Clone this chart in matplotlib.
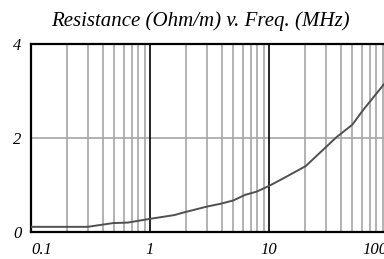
import matplotlib
matplotlib.use("Agg")
import matplotlib.pyplot as plt
from matplotlib.ticker import FixedLocator, NullFormatter

title = "Resistance (Ohm/m) v. Freq. (MHz)"
freq_mhz = [0.1, 0.3, 0.49, 0.65, 1.0, 1.6, 1.95, 3.0, 3.9, 5.0, 6.3, 7.9, 10, 12.3, 20.3, 37, 50, 62, 100]
resistance = [0.11, 0.11, 0.19, 0.20, 0.28, 0.36, 0.42, 0.54, 0.60, 0.67, 0.79, 0.86, 0.98, 1.10, 1.40, 2.02, 2.28, 2.60, 3.25]
x_ticks = [0.1, 1, 10, 100]
x_labels = ["0.1", "1", "10", "100"]
y_ticks = [0, 2, 4]
y_labels = ["0", "2", "4"]

W, H = 384, 259
fig = plt.figure(figsize=(W / 100, H / 100), dpi=100)
ax = fig.add_axes([31 / W, (H - 232) / H, (388 - 31) / W, (232 - 44) / H])

ax.set_xscale("log")
ax.set_xlim(0.1, 100)
ax.set_ylim(0, 4)

minor = [m * d for d in (0.1, 1, 10) for m in range(2, 10)]
ax.xaxis.set_major_locator(FixedLocator(x_ticks))
ax.xaxis.set_minor_locator(FixedLocator(minor))
ax.xaxis.set_minor_formatter(NullFormatter())
ax.set_yticks(y_ticks)

for m in minor:
    ax.axvline(m, color="#a6a6a6", lw=1.2, zorder=1)
for t in x_ticks[1:3]:
    ax.axvline(t, color="black", lw=1.2, zorder=2)
ax.axhline(2, color="#a6a6a6", lw=1.2, zorder=1)

ax.plot(freq_mhz, resistance, color="#505050", lw=1.4, zorder=3)

font = dict(family="Liberation Serif", style="italic", size=12)
ax.set_xticklabels(x_labels, **font)
ax.set_yticklabels(y_labels, **font)
labs = ax.get_xticklabels()
labs[0].set_horizontalalignment("left")
labs[-1].set_horizontalalignment("right")
ax.tick_params(axis="both", which="both", length=0)
ax.tick_params(axis="x", pad=7)
ax.tick_params(axis="y", pad=7)

for s in ("left", "top", "bottom"):
    ax.spines[s].set_linewidth(1.6)
    ax.spines[s].set_color("black")
ax.spines["right"].set_visible(False)

fig.text(200 / W, 1 - 21 / H, title, ha="center", va="center", family="Liberation Serif", style="italic", size=15)

fig.savefig("out.png", dpi=100)
